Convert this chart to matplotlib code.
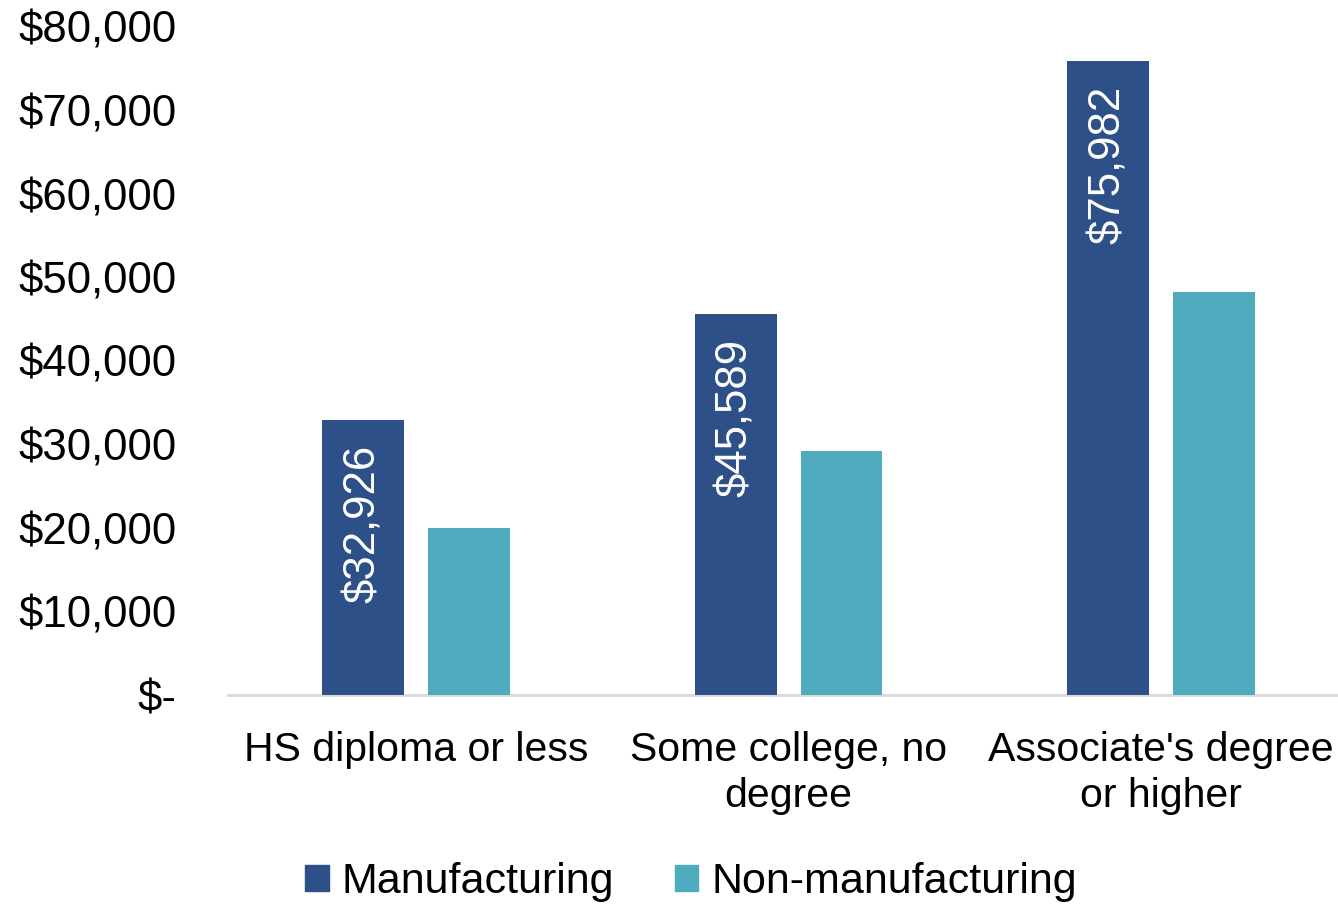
import matplotlib
matplotlib.use("Agg")
import matplotlib.pyplot as plt
import numpy as np
from matplotlib.patches import Patch

categories = ["HS diploma or less", "Some college, no\ndegree", "Associate's degree\nor higher"]
manufacturing = [32926, 45589, 75982]
non_manufacturing = [20000, 29200, 48300]
manuf_labels = ["$32,926", "$45,589", "$75,982"]
ytick_values = [0, 10000, 20000, 30000, 40000, 50000, 60000, 70000, 80000]
ytick_labels = ["$-", "$10,000", "$20,000", "$30,000", "$40,000", "$50,000", "$60,000", "$70,000", "$80,000"]

c_man = "#2E5089"
c_non = "#4FACBF"

plt.rcParams["font.family"] = ["Liberation Sans", "DejaVu Sans"]
fs = 31.5

fig = plt.figure(figsize=(13.38, 9.06), dpi=100)
ax = fig.add_axes([228/1338, 211/906, 1110/1338, 668/906])

x = np.arange(len(categories))
w = 0.22
off = 0.142
ax.bar(x - off, manufacturing, w, color=c_man, zorder=2)
ax.bar(x + off, non_manufacturing, w, color=c_non, zorder=2)

for xi, v, lab in zip(x, manufacturing, manuf_labels):
    ax.annotate(lab, xy=(xi - off, v), xytext=(0, -18), textcoords="offset points",
                rotation=90, ha="center", va="top", color="white", fontsize=fs)

ax.set_xlim(-0.505, 2.475)
ax.set_ylim(0, 80000)
ax.set_yticks(ytick_values)
ax.set_yticklabels(ytick_labels, fontsize=fs)
ax.set_xticks(x)
ax.set_xticklabels(categories, fontsize=29.5, linespacing=1.25)
ax.tick_params(axis="y", length=0, pad=37)
ax.tick_params(axis="x", length=0, pad=26)

for s in ["top", "right", "left"]:
    ax.spines[s].set_visible(False)
ax.spines["bottom"].set_color("#D9D9D9")
ax.spines["bottom"].set_linewidth(2)
ax.spines["bottom"].set_zorder(1)

handles = [Patch(color=c_man, label="Manufacturing"), Patch(color=c_non, label="Non-manufacturing")]
fig.legend(handles=handles, loc="center", bbox_to_anchor=(691/1338, 1 - 882/906), ncol=2,
           frameon=False, fontsize=31, handlelength=0.55, handleheight=0.55,
           handletextpad=0.3, columnspacing=1.4)

fig.savefig("out.png", dpi=100)
